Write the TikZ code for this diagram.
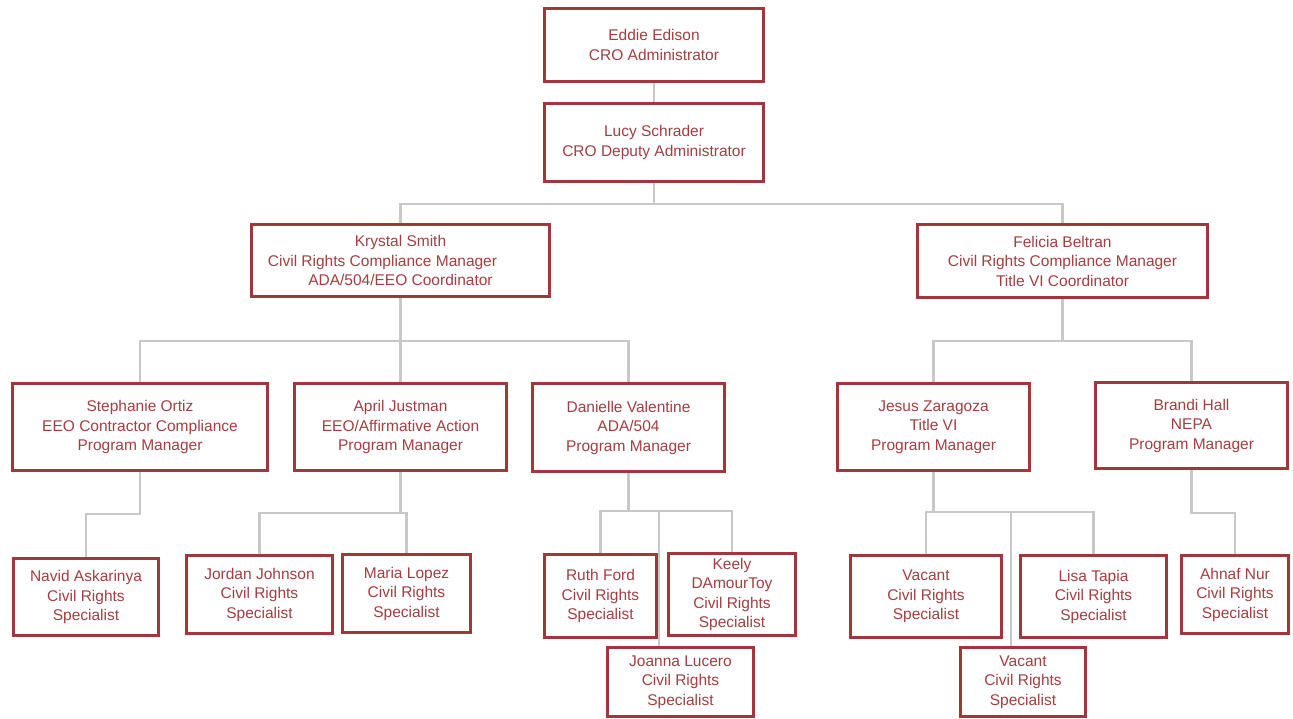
\documentclass[tikz,border=0pt]{standalone}
\usepackage{fontspec}
\setmainfont{Liberation Sans}
\usetikzlibrary{backgrounds,calc}
\definecolor{boxred}{HTML}{A3363A}
\definecolor{txtred}{HTML}{A43E40}
\definecolor{linegray}{HTML}{C8C8C8}
\tikzset{
  person/.style={draw=boxred, line width=2.8pt, fill=white, text=txtred,
    align=center, inner sep=0pt, font=\fontsize{15.5}{19.5}\selectfont},
  link/.style={draw=linegray, line width=2.6pt},
}
\newcommand{\personbox}[6]{%
  \node[person, minimum width={#4-#2-2.8}, minimum height={#5-#3-2.8}]
    (#1) at ({(#2+#4)/2},{(#3+#5)/2}) {#6};}
\begin{document}
\begin{tikzpicture}[x=1pt,y=-1pt]
\useasboundingbox (0,0) rectangle (1293,719);
% level 1-2
\personbox{eddie}{543}{7}{765}{83}{Eddie Edison\\CRO Administrator}
\personbox{lucy}{543}{102}{765}{183}{Lucy Schrader\\CRO Deputy Administrator}
% level 3
\personbox{krystal}{250}{223}{551}{298}{Krystal Smith\\\mbox{Civil Rights Compliance Manager\hspace{36pt}}\\ADA/504/EEO Coordinator}
\personbox{felicia}{916}{223}{1209}{299}{Felicia Beltran\\Civil Rights Compliance Manager\\Title VI Coordinator}
% level 4
\personbox{stephanie}{11}{382}{269}{472}{Stephanie Ortiz\\EEO Contractor Compliance\\Program Manager}
\personbox{april}{293}{382}{508}{472}{April Justman\\EEO/Affirmative Action\\Program Manager}
\personbox{danielle}{531}{382}{726}{473}{Danielle Valentine\\ADA/504\\Program Manager}
\personbox{jesus}{836}{382}{1031}{472}{Jesus Zaragoza\\Title VI\\Program Manager}
\personbox{brandi}{1094}{381}{1289}{470}{Brandi Hall\\NEPA\\Program Manager}
% level 5
\personbox{navid}{12}{557}{160}{637}{Navid Askarinya\\Civil Rights\\Specialist}
\personbox{jordan}{185}{554}{334}{635}{Jordan Johnson\\Civil Rights\\Specialist}
\personbox{maria}{341}{553}{472}{634}{Maria Lopez\\Civil Rights\\Specialist}
\personbox{ruth}{543}{553}{658}{639}{Ruth Ford\\Civil Rights\\Specialist}
\personbox{keely}{667}{552}{797}{637}{Keely\\DAmourToy\\Civil Rights\\Specialist}
\personbox{joanna}{606}{646}{755}{718}{Joanna Lucero\\Civil Rights\\Specialist}
\personbox{vacantone}{849}{554}{1003}{639}{Vacant\\Civil Rights\\Specialist}
\personbox{lisa}{1019}{554}{1168}{639}{Lisa Tapia\\Civil Rights\\Specialist}
\personbox{vacanttwo}{959}{646}{1087}{718}{Vacant\\Civil Rights\\Specialist}
\personbox{ahnaf}{1180}{554}{1290}{635}{Ahnaf Nur\\Civil Rights\\Specialist}
% connectors
\begin{scope}[on background layer]
\draw[link] (eddie.south) -- (lucy.north);
\draw[link] (lucy.south) -- ++(0,21) -| (krystal.north);
\draw[link] (lucy.south) -- ++(0,21) -| (felicia.north);
\draw[link] (krystal.south) -- ++(0,43) -| (stephanie.north);
\draw[link] (krystal.south) -- ++(0,43) -| (april.north);
\draw[link] (krystal.south) -- ++(0,43) -| (danielle.north);
\draw[link] (felicia.south) -- ++(0,42) -| (jesus.north);
\draw[link] (felicia.south) -- ++(0,42) -| (brandi.north);
\draw[link] (stephanie.south) -- ++(0,42) -| (navid.north);
\draw[link] (april.south) -- ++(0,41) -| (jordan.north);
\draw[link] (april.south) -- ++(0,41) -| (maria.north);
\draw[link] (danielle.south) -- ++(0,38) -| (ruth.north);
\draw[link] (danielle.south) -- ++(0,38) -| (keely.north);
\draw[link] (danielle.south) -- ++(0,38) -| ($(joanna.north west)+(53,0)$);
\draw[link] (jesus.south) -- ++(0,40) -| (vacantone.north);
\draw[link] (jesus.south) -- ++(0,40) -| (lisa.north);
\draw[link] (jesus.south) -- ++(0,40) -| ($(vacanttwo.north west)+(52,0)$);
\draw[link] (brandi.south) -- ++(0,43) -| (ahnaf.north);
\end{scope}
\end{tikzpicture}
\end{document}
